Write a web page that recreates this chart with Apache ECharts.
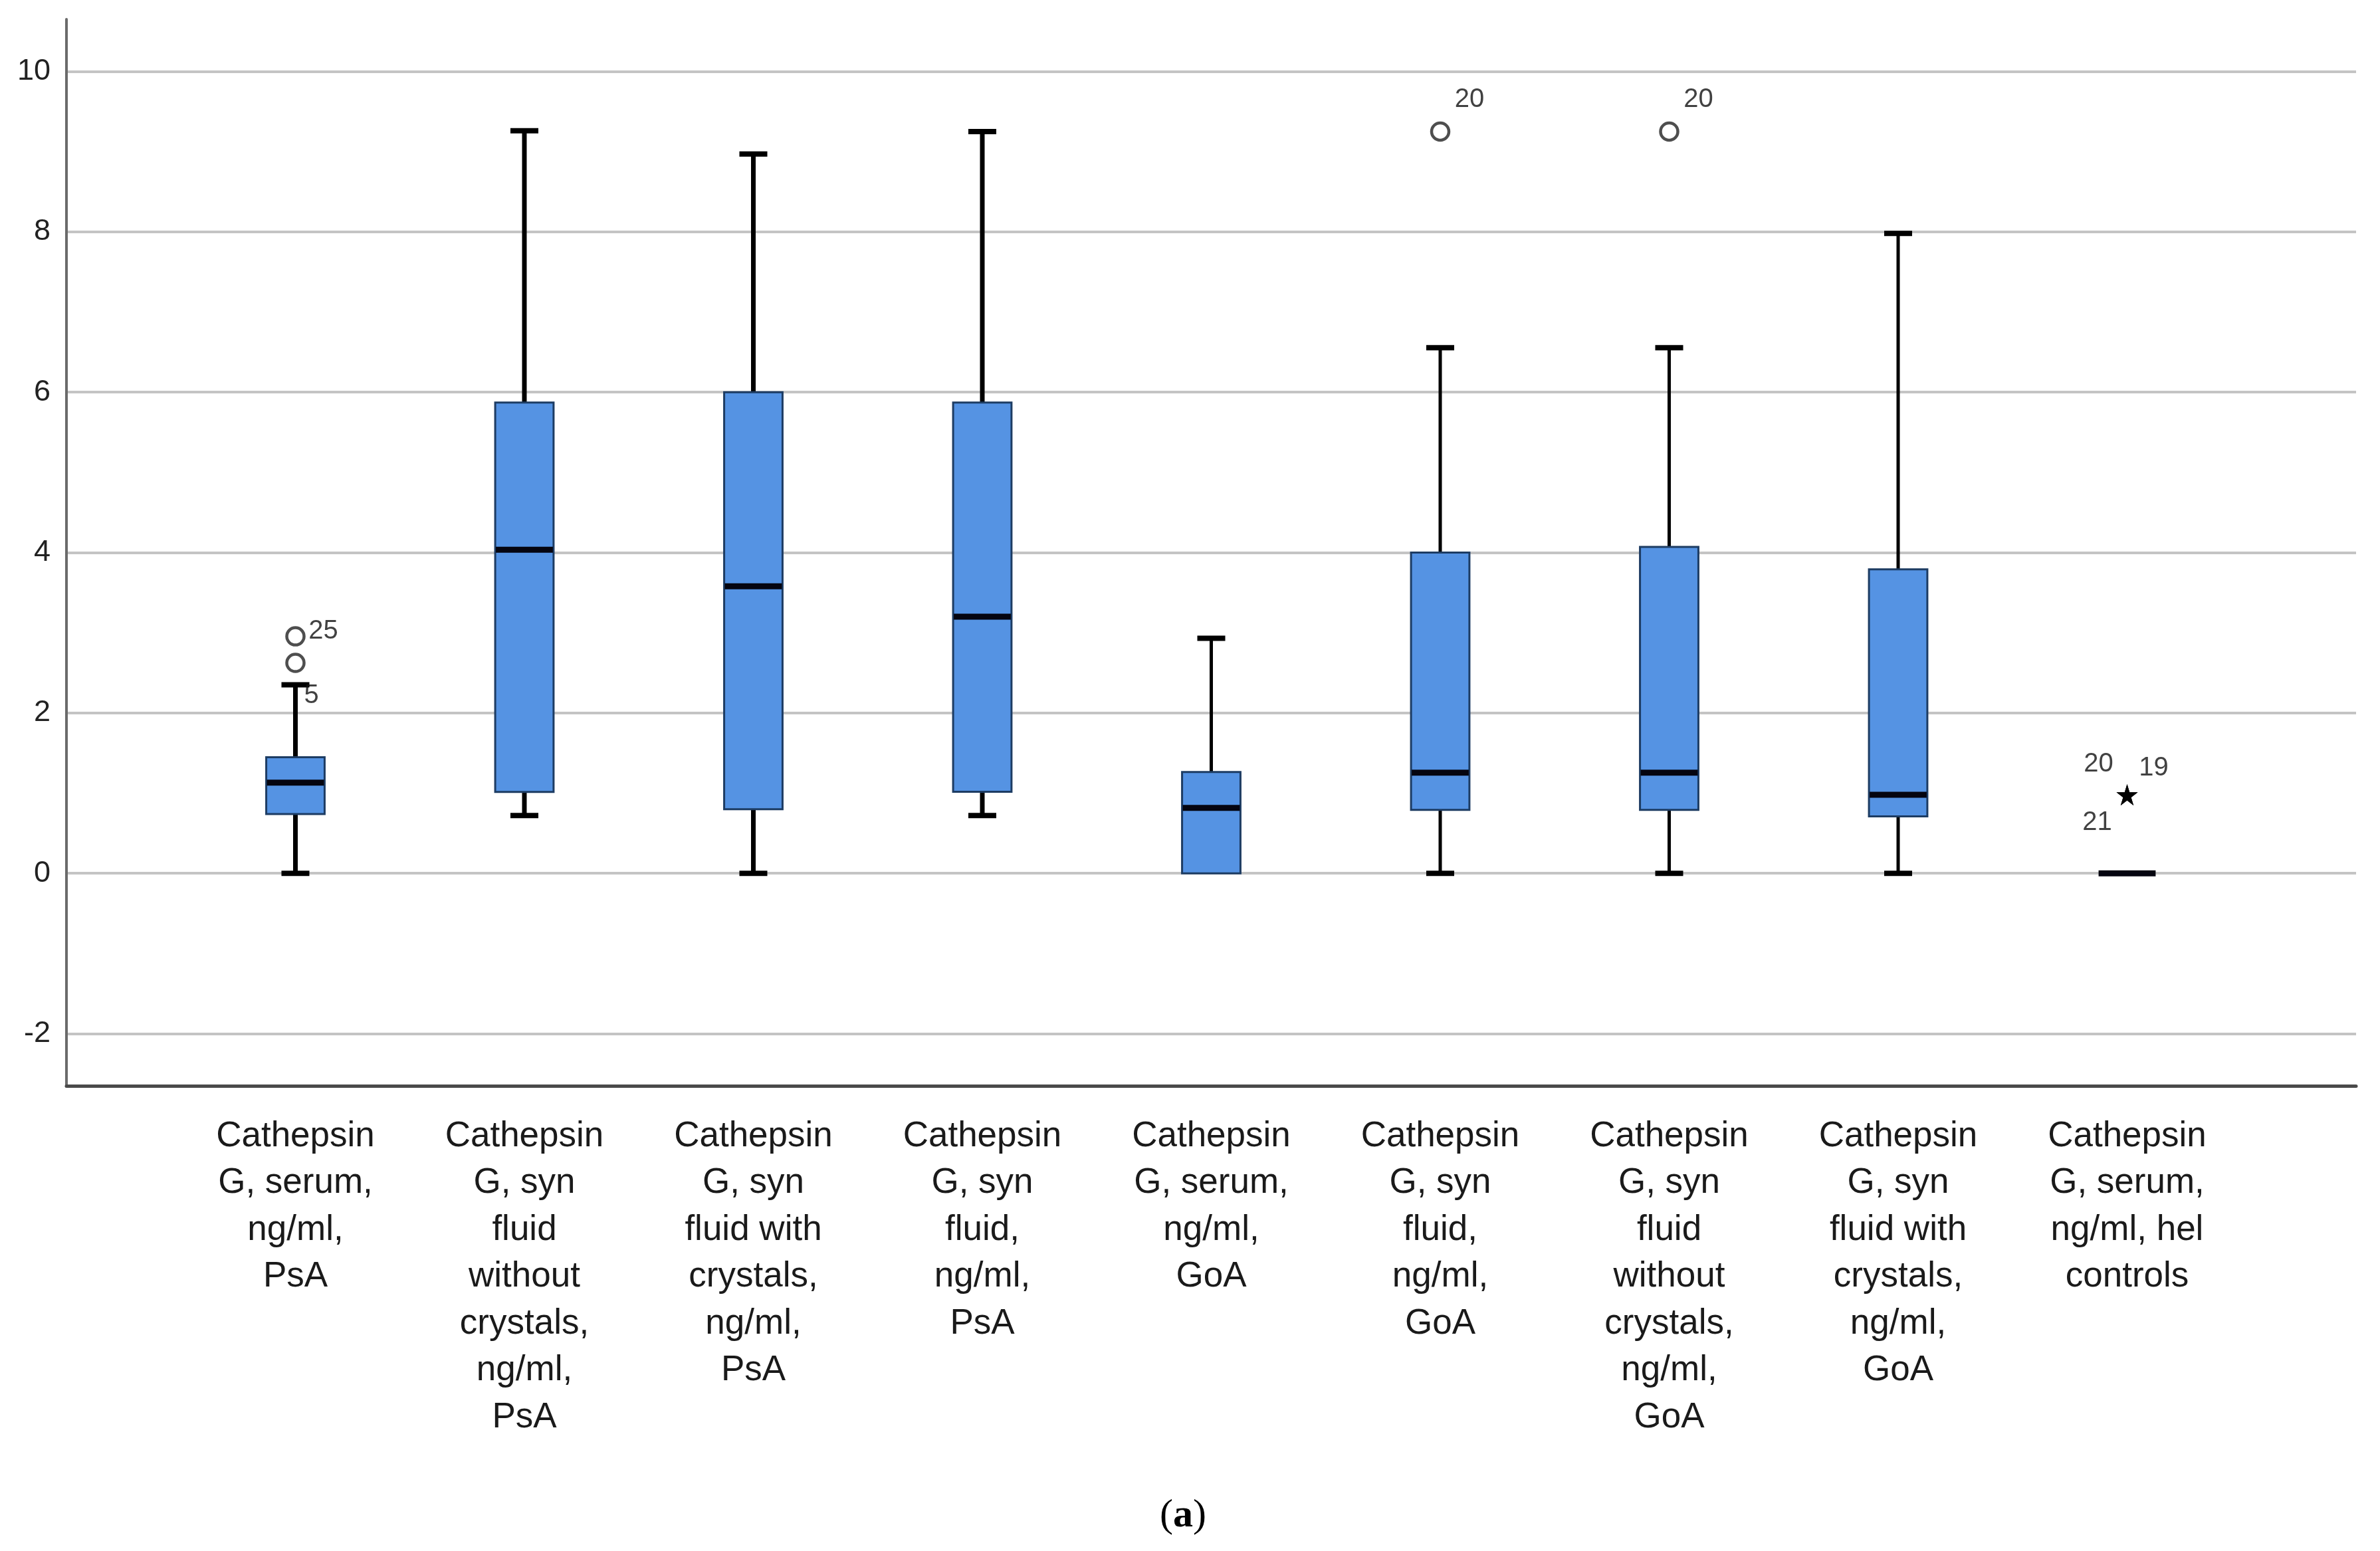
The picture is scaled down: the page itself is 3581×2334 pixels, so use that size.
<!DOCTYPE html>
<html>
<head>
<meta charset="utf-8">
<script src="https://cdn.jsdelivr.net/npm/echarts@6/dist/echarts.min.js"></script>
<style>
html, body { margin: 0; padding: 0; background: #ffffff; }
#chart { width: 3581px; height: 2334px; }
</style>
</head>
<body>
<div id="chart"></div>
<script>
// ---- data ----
const categories = [
  "Cathepsin\nG, serum,\nng/ml,\nPsA",
  "Cathepsin\nG, syn\nfluid\nwithout\ncrystals,\nng/ml,\nPsA",
  "Cathepsin\nG, syn\nfluid with\ncrystals,\nng/ml,\nPsA",
  "Cathepsin\nG, syn\nfluid,\nng/ml,\nPsA",
  "Cathepsin\nG, serum,\nng/ml,\nGoA",
  "Cathepsin\nG, syn\nfluid,\nng/ml,\nGoA",
  "Cathepsin\nG, syn\nfluid\nwithout\ncrystals,\nng/ml,\nGoA",
  "Cathepsin\nG, syn\nfluid with\ncrystals,\nng/ml,\nGoA",
  "Cathepsin\nG, serum,\nng/ml, hel\ncontrols"
];
const whiskerLow  = [0,     0.72,  0,    0.72,  0,     0,     0,     0,    0];
const q1          = [0.74,  1.015, 0.80, 1.016, 0,     0.79,  0.79,  0.71, 0];
const medians     = [1.13,  4.035, 3.58, 3.20,  0.816, 1.255, 1.255, 0.98, 0];
const q3          = [1.447, 5.87,  6.0,  5.87,  1.263, 4.0,   4.07,  3.79, 0];
const whiskerHigh = [2.35,  9.26,  8.97, 9.25,  2.93,  6.555, 6.555, 7.98, 0];

const outlierCategory = [1, 1, 6, 7];
const outlierValues   = [2.955, 2.624, 9.25, 9.25];
const outlierIds      = ["25", "5", "20", "20"];

const extremeCategory = [9, 9, 9];
const extremeValues   = [0.98, 0.98, 0.98];
const extremeIds      = ["20", "19", "21"];

const yTicks = [-2, 0, 2, 4, 6, 8, 10];

// ---- styles (kept separate from data) ----
const FONT = "'Liberation Sans', Arial, sans-serif";
const outlierLabelOffsets = [[42, -8], [24, 49], [44, -48], [44, -48]];
const extremeLabelOffsets = [[-43, -46], [40, -40], [-45, 42]];
const whiskerWidths = [7, 7, 7, 7, 5, 5, 5, 5, 5];

const xData = [""].concat(categories, [""]);
const boxData = categories.map((c, k) => [k + 1, whiskerLow[k], q1[k], medians[k], q3[k], whiskerHigh[k]]);

function renderBox(params, api) {
  const i = api.value(0);
  const lo = api.coord([i, api.value(1)]);
  const b1 = api.coord([i, api.value(2)]);
  const md = api.coord([i, api.value(3)]);
  const b3 = api.coord([i, api.value(4)]);
  const hi = api.coord([i, api.value(5)]);
  const step = api.size([1, 0])[0];
  const bw = step * 0.255;
  const cw = step * 0.122;
  const cx = lo[0];
  const ww = whiskerWidths[params.dataIndex];
  const lineStyle = { stroke: '#000000', lineWidth: ww };
  const capStyle = { stroke: '#000000', lineWidth: 8 };
  const children = [];
  if (hi[1] < b3[1] - 0.5) {
    children.push({ type: 'line', shape: { x1: cx, y1: b3[1], x2: cx, y2: hi[1] }, style: lineStyle });
    children.push({ type: 'line', shape: { x1: cx - cw / 2, y1: hi[1], x2: cx + cw / 2, y2: hi[1] }, style: capStyle });
  }
  if (lo[1] > b1[1] + 0.5) {
    children.push({ type: 'line', shape: { x1: cx, y1: b1[1], x2: cx, y2: lo[1] }, style: lineStyle });
    children.push({ type: 'line', shape: { x1: cx - cw / 2, y1: lo[1], x2: cx + cw / 2, y2: lo[1] }, style: capStyle });
  }
  if (b1[1] - b3[1] > 0.5) {
    children.push({
      type: 'rect',
      shape: { x: cx - bw / 2, y: b3[1], width: bw, height: b1[1] - b3[1] },
      style: { fill: '#5593e3', stroke: '#1d3c63', lineWidth: 3 }
    });
  }
  children.push({
    type: 'line',
    shape: { x1: cx - bw / 2 + 1, y1: md[1], x2: cx + bw / 2 - 1, y2: md[1] },
    style: { stroke: '#050510', lineWidth: 9 }
  });
  return { type: 'group', children: children };
}

const outlierData = outlierValues.map((v, k) => ({
  name: outlierIds[k],
  value: [outlierCategory[k], v],
  label: { offset: outlierLabelOffsets[k] }
}));
const extremeData = extremeValues.map((v, k) => ({
  name: extremeIds[k],
  value: [extremeCategory[k], v],
  label: { offset: extremeLabelOffsets[k] }
}));

const idLabel = {
  show: true,
  position: 'inside',
  formatter: '{b}',
  fontFamily: FONT,
  fontSize: 40,
  color: '#111111'
};

const chart = echarts.init(document.getElementById('chart'), null, { renderer: 'canvas' });
chart.setOption({
  backgroundColor: '#ffffff',
  animation: false,
  grid: { left: 100, right: 36, top: 29, bottom: 700 },
  xAxis: {
    type: 'category',
    data: xData,
    boundaryGap: false,
    axisLine: { show: true, onZero: false, lineStyle: { color: '#4a4a4a', width: 5 } },
    axisTick: { show: false },
    splitLine: { show: false },
    axisLabel: {
      interval: 0,
      margin: 41,
      fontFamily: FONT,
      fontSize: 53,
      lineHeight: 70.5,
      color: '#1a1a1a',
      align: 'center'
    }
  },
  yAxis: {
    type: 'value',
    min: -2.65,
    max: 10.65,
    axisLine: { show: true, lineStyle: { color: '#6b6b6b', width: 4 } },
    axisTick: { show: false, customValues: yTicks },
    axisLabel: {
      customValues: yTicks,
      margin: 24,
      fontFamily: FONT,
      fontSize: 45,
      color: '#222222'
    },
    splitLine: { show: true, lineStyle: { color: '#c4c4c4', width: 4 } }
  },
  series: [
    {
      type: 'custom',
      renderItem: renderBox,
      encode: { x: 0, y: [1, 2, 3, 4, 5] },
      data: boxData,
      z: 3
    },
    {
      type: 'scatter',
      symbol: 'circle',
      symbolSize: 26,
      itemStyle: { color: 'rgba(255,255,255,0)', borderColor: '#222222', borderWidth: 4.5 },
      label: idLabel,
      data: outlierData,
      z: 4
    },
    {
      type: 'scatter',
      symbol: 'path://M50,0 L61,35 L98,35 L68,57 L79,91 L50,70 L21,91 L32,57 L2,35 L39,35 Z',
      symbolSize: 32,
      itemStyle: { color: '#000000' },
      label: idLabel,
      data: extremeData,
      z: 4
    }
  ],
  graphic: [
    {
      type: 'text',
      x: 1780,
      y: 2281,
      style: {
        text: '{p|(}{b|a}{p|)}',
        align: 'center',
        verticalAlign: 'middle',
        rich: {
          p: { fontFamily: "'Liberation Serif', 'Times New Roman', serif", fontSize: 60, fill: '#000000' },
          b: { fontFamily: "'Liberation Serif', 'Times New Roman', serif", fontSize: 60, fontWeight: 'bold', fill: '#000000' }
        }
      }
    }
  ]
});
</script>
</body>
</html>
